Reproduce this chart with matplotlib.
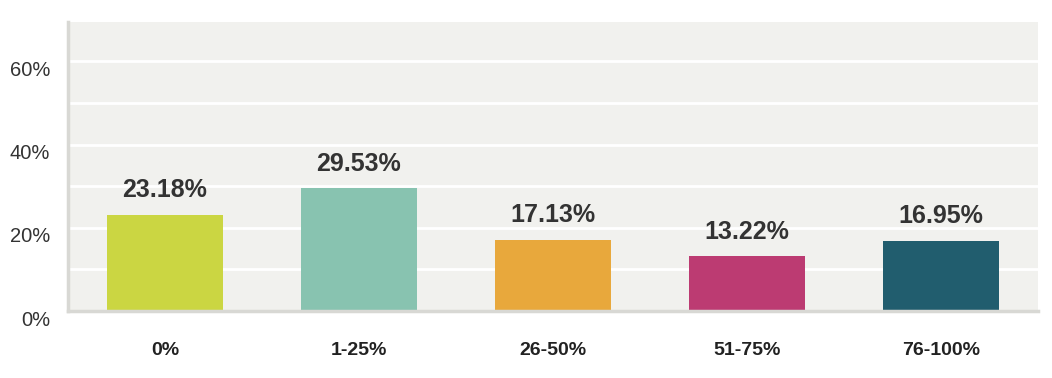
import matplotlib
matplotlib.use('Agg')
import matplotlib.pyplot as plt
import matplotlib.transforms as mtransforms
import numpy as np

# Data
categories = ['0%', '1-25%', '26-50%', '51-75%', '76-100%']
values = [23.18, 29.53, 17.13, 13.22, 16.95]
colors = ['#cbd642', '#88c3b0', '#e8a83c', '#bc3b72', '#215d6e']
y_ticks = [0, 20, 40, 60]

plt.rcParams['font.family'] = ['Liberation Sans', 'DejaVu Sans']

fig = plt.figure(figsize=(10.52, 3.78), dpi=100)
ax = fig.add_axes([0.0646, 0.177, 0.9221, 0.765])
ax.set_facecolor('#f1f1ee')

x = np.arange(len(categories))
bars = ax.bar(x, values, width=0.6, color=colors, zorder=3)

# value labels above each bar
for bar, v in zip(bars, values):
    ax.annotate(f'{v:.2f}%', xy=(bar.get_x() + bar.get_width() / 2, v),
                xytext=(0, 9), textcoords='offset points',
                ha='center', va='bottom', fontsize=18, fontweight='bold',
                color='#333333', zorder=4)

ax.set_xlim(-0.5, len(categories) - 0.5)
ax.set_ylim(0, 69.5)

# white gridlines every 10%
for g in range(10, 70, 10):
    ax.axhline(g, color='white', linewidth=2, zorder=1)

ax.set_yticks(y_ticks)
ax.set_yticklabels([f'{t}%' for t in y_ticks], fontsize=14.5, color='#333333')
ax.set_xticks(x)
ax.set_xticklabels(categories, fontsize=14, fontweight='bold', color='#222222')
ax.tick_params(axis='both', length=0)
ax.tick_params(axis='y', pad=13)
ax.tick_params(axis='x', pad=22)

# y labels sit a little below their gridlines in the reference
shift = mtransforms.ScaledTranslation(0, -7 / 100, fig.dpi_scale_trans)
for lbl in ax.get_yticklabels():
    lbl.set_transform(lbl.get_transform() + shift)

for side in ['top', 'right']:
    ax.spines[side].set_visible(False)
for side in ['left', 'bottom']:
    ax.spines[side].set_color('#d8d8d4')
    ax.spines[side].set_linewidth(2.5)
    ax.spines[side].set_zorder(5)

fig.savefig('out.png', dpi=100, facecolor='white')
